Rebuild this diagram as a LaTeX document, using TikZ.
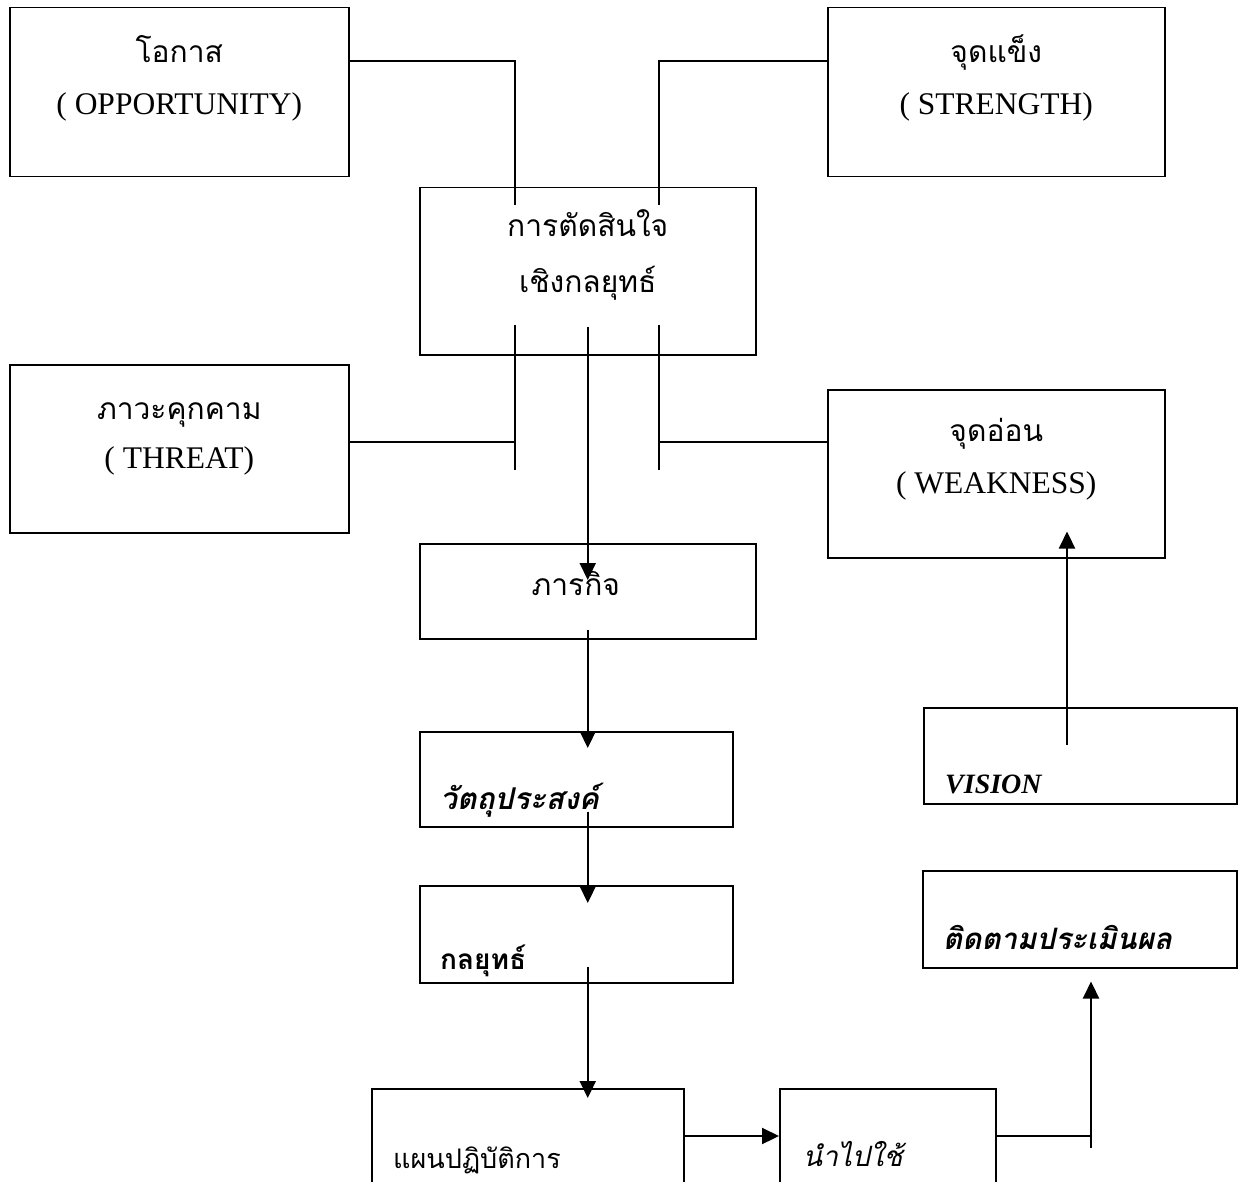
\documentclass[tikz,border=0pt]{standalone}
\usepackage{fontspec}
\setmainfont{Liberation Serif}
\newfontfamily\thai[Script=Thai]{Loma}
\usetikzlibrary{arrows.meta}
\begin{document}
\begin{tikzpicture}[
    x=1pt,y=-1pt,
    box/.style={draw,line width=1.5pt,inner sep=0pt,anchor=north west},
    link/.style={line width=1.5pt},
    flow/.style={line width=2.2pt,-{Triangle[length=17pt,width=16pt]}},
    boxtext/.style={anchor=base,align=center,font=\fontsize{31.5}{52}\selectfont},
    tag/.style={anchor=base west,inner sep=0pt,font=\fontsize{28}{34}\selectfont},
  ]
  \useasboundingbox (0,0) rectangle (1239,1182);
  \fill[white] (0,0) rectangle (1239,1182);
  \clip (0,0) rectangle (1239,1182);
  \node[box,minimum width=339pt,minimum height=169pt] (opp) at (9,7) {};
  \node[box,minimum width=337pt,minimum height=169pt] (strength) at (827,7) {};
  \node[box,minimum width=336pt,minimum height=167pt] (decision) at (419,187) {};
  \node[box,minimum width=339pt,minimum height=168pt] (threat) at (9,364) {};
  \node[box,minimum width=337pt,minimum height=168pt] (weakness) at (827,389) {};
  \node[box,minimum width=336pt,minimum height=95pt] (mission) at (419,543) {};
  \node[box,minimum width=313pt,minimum height=95pt] (objective) at (419,731) {};
  \node[box,minimum width=313pt,minimum height=97pt] (strategy) at (419,885) {};
  \node[box,minimum width=312pt,minimum height=120pt] (plan) at (371,1088) {};
  \node[box,minimum width=216pt,minimum height=120pt] (implement) at (779,1088) {};
  \node[box,minimum width=313pt,minimum height=96pt] (vision) at (923,707) {};
  \node[box,minimum width=314pt,minimum height=97pt] (follow) at (922,870) {};
  \node[boxtext] (opplbl) at ([yshift=-108pt]opp.north) {{\thai\fontsize{30}{52}\selectfont โอกาส}\\( OPPORTUNITY)};
  \node[boxtext] (strengthlbl) at ([yshift=-108pt]strength.north) {{\thai\fontsize{30}{52}\selectfont จุดแข็ง}\\( STRENGTH)};
  \node[boxtext,font=\fontsize{30}{56}\selectfont] (decisionlbl) at ([yshift=-106pt]decision.north) {\thai การตัดสินใจ\\\thai เชิงกลยุทธ์};
  \node[boxtext,font=\fontsize{31.5}{49}\selectfont] (threatlbl) at ([yshift=-104pt]threat.north) {{\thai\fontsize{30}{49}\selectfont ภาวะคุกคาม}\\( THREAT)};
  \node[boxtext] (weaknesslbl) at ([yshift=-104pt]weakness.north) {{\thai\fontsize{30}{52}\selectfont จุดอ่อน}\\( WEAKNESS)};
  \node[boxtext,font=\fontsize{30}{52}\selectfont] (missionlbl) at ([xshift=-12pt,yshift=-52pt]mission.north) {\thai ภารกิจ};
  \node[tag,font=\fontsize{30}{34}\selectfont] (objectivelbl) at ([xshift=21pt,yshift=18pt]objective.south west) {\thai\bfseries\itshape วัตถุประสงค์};
  \node[tag] (strategylbl) at ([xshift=21pt,yshift=14pt]strategy.south west) {\thai\bfseries กลยุทธ์};
  \node[tag,font=\fontsize{27}{34}\selectfont] (planlbl) at ([xshift=22pt,yshift=-80pt]plan.north west) {\thai แผนปฏิบัติการ};
  \node[tag] (implementlbl) at ([xshift=24pt,yshift=-78pt]implement.north west) {\thai\itshape นำไปใช้};
  \node[tag] (visionlbl) at ([xshift=22pt,yshift=11pt]vision.south west) {\bfseries\itshape VISION};
  \node[tag,font=\fontsize{29.5}{34}\selectfont] (followlbl) at ([xshift=21pt,yshift=19pt]follow.south west) {\thai\bfseries\itshape ติดตามประเมินผล};
  \coordinate (oend) at (515,205);
  \coordinate (send) at (659,205);
  \coordinate (ttop) at (515,325);
  \coordinate (tbot) at (515,470);
  \coordinate (wtop) at (659,325);
  \coordinate (wbot) at (659,470);
  \coordinate (fork) at (1091,1148);
  \draw[link] (opp.east |- 0,61) -| (oend);
  \draw[link] (strength.west |- 0,61) -| (send);
  \draw[link] (ttop) -- (tbot);
  \draw[link] (wtop) -- (wbot);
  \draw[link] (threat.east |- 0,442) -- (ttop |- 0,442);
  \draw[link] (weakness.west |- 0,442) -- (wtop |- 0,442);
  \draw[flow,shorten <=-29pt,shorten >=-37pt] (decision.south) -- (mission.north);
  \draw[flow,shorten <=-10pt,shorten >=-17pt] (mission.south) -- (mission.south |- objective.north);
  \draw[flow,shorten <=-16pt,shorten >=-18pt] (mission.south |- objective.south) -- (mission.south |- strategy.north);
  \draw[flow,shorten <=-17pt,shorten >=-10pt] (mission.south |- strategy.south) -- (mission.south |- plan.north);
  \draw[flow] (plan.east |- 0,1136) -- (implement.west |- 0,1136);
  \draw[link] (implement.east |- 0,1136) -- (fork |- 0,1136);
  \draw[flow,shorten >=13pt] (fork) -- (fork |- follow.south);
  \draw[flow,shorten <=-38pt,shorten >=-27pt] (vision.north -| 1067,0) -- (weakness.south -| 1067,0);
\end{tikzpicture}
\end{document}
